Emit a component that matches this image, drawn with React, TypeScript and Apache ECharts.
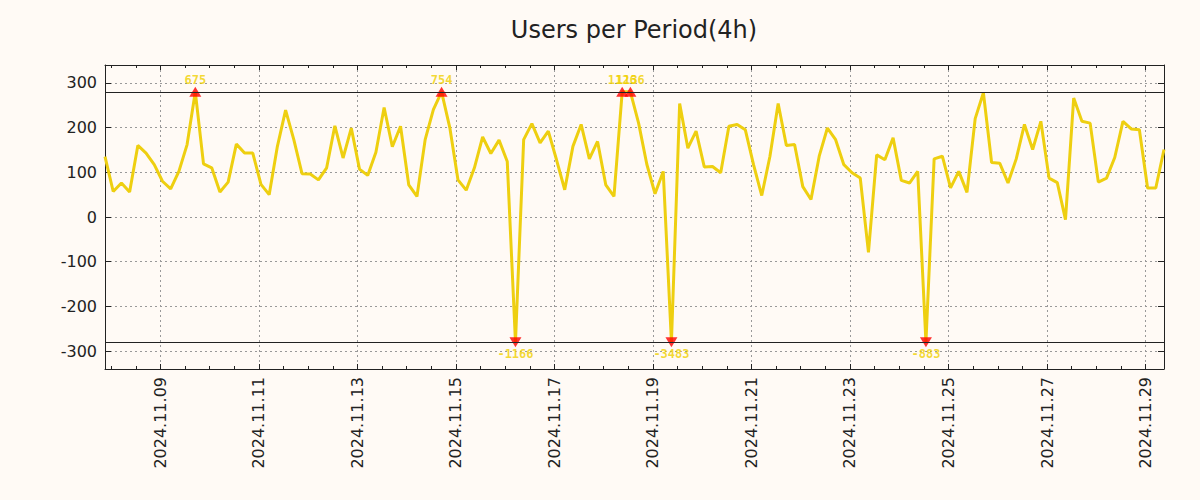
import React, { useEffect, useRef } from 'react';
import * as echarts from 'echarts';

const chartTitle = 'Users per Period(4h)';
// x positions are in days since 2024-11-01 00:00; first sample is 2024.11.07 21:00
const startDay = 6.875;
const periodDays = 4 / 24;
const tickStartDay = 8; // 2024.11.09
const tickStepDays = 2;
const tickLabels = [
  '2024.11.09', '2024.11.11', '2024.11.13', '2024.11.15', '2024.11.17', '2024.11.19',
  '2024.11.21', '2024.11.23', '2024.11.25', '2024.11.27', '2024.11.29',
];
const yTickValues = [-300, -200, -100, 0, 100, 200, 300];
const clipLimit = 280;

const users = [
  135, 57, 76, 56, 160, 143, 117, 80, 63, 102,
  162, 675, 119, 110, 56, 78, 163, 143, 143, 73,
  50, 158, 239, 173, 97, 96, 83, 110, 204, 132,
  199, 107, 93, 145, 245, 157, 203, 72, 46, 173,
  240, 754, 200, 83, 60, 110, 179, 142, 172, 124,
  -1166, 173, 209, 166, 192, 128, 61, 158, 207, 130,
  169, 72, 46, 1126, 1136, 210, 118, 52, 102, -3483,
  254, 154, 192, 112, 113, 99, 203, 207, 195, 117,
  48, 136, 254, 160, 162, 68, 39, 136, 199, 173,
  117, 99, 87, -79, 139, 128, 177, 82, 76, 102,
  -883, 130, 136, 65, 102, 55, 220, 278, 122, 120,
  76, 130, 207, 151, 214, 87, 77, -6, 266, 214,
  210, 78, 87, 133, 214, 197, 195, 65, 65, 151,
];

const lineColor = '#eecf10';
const labelColor = '#f0d000';
const textColor = '#222222';
const bgColor = '#fffaf5';
const font = 'DejaVu Sans';

export default function App() {
  const ref = useRef<HTMLDivElement>(null);
  useEffect(() => {
    document.body.style.margin = '0';
    document.body.style.background = bgColor;
    if (!ref.current) return;
    const chart = echarts.init(ref.current, null, { renderer: 'svg' });
    const xMin = startDay;
    const xMax = startDay + (users.length - 1) * periodDays;
    const lineData = users.map((v, i) => [
      startDay + i * periodDays,
      Math.max(-clipLimit, Math.min(clipLimit, v)),
    ]);
    const outliers = users
      .map((v, i) => ({ v, i }))
      .filter((o) => Math.abs(o.v) > clipLimit)
      .map((o) => ({
        value: [startDay + o.i * periodDays, o.v > 0 ? clipLimit : -clipLimit, o.v],
        symbolRotate: o.v > 0 ? 0 : 180,
        label: { position: o.v > 0 ? 'top' : 'bottom' },
      }));
    const xLabel = (v: number) => {
      const k = (v - tickStartDay) / tickStepDays;
      if (Math.abs(k - Math.round(k)) > 1e-6) return '';
      return tickLabels[Math.round(k)] ?? '';
    };
    const yLabel = (v: number) => {
      const r = Math.round(v);
      return Math.abs(v - r) < 1e-6 && yTickValues.includes(r) ? String(r) : '';
    };
    const axisLine = { show: true, onZero: false, lineStyle: { color: textColor, width: 1 } };
    const noLine = { show: false, onZero: false };
    const grid = { left: 105, right: 36, top: 65, bottom: 131, containLabel: false };
    const splitLine = { show: true, lineStyle: { color: '#999999', type: [2, 3], width: 1 } };
    const option: any = {
      animation: false,
      backgroundColor: bgColor,
      grid,
      graphic: [
        {
          type: 'text',
          x: 634,
          y: 30,
          style: {
            text: chartTitle,
            fill: textColor,
            font: `24px "${font}"`,
            textAlign: 'center',
            textVerticalAlign: 'middle',
          },
        },
      ],
      xAxis: [
        {
          type: 'value', position: 'bottom', min: xMin, max: xMax,
          minInterval: tickStepDays, maxInterval: tickStepDays,
          axisLine,
          axisTick: { show: true, inside: true, length: 5, lineStyle: { color: textColor } },
          axisLabel: {
            rotate: 90, margin: 8, fontSize: 16, fontFamily: font, color: textColor,
            formatter: xLabel, showMinLabel: true, showMaxLabel: true,
          },
          splitLine,
        },
        {
          type: 'value', position: 'bottom', min: xMin, max: xMax,
          minInterval: 0.5, maxInterval: 0.5,
          axisLine: noLine,
          axisTick: { show: true, inside: true, length: 3, lineStyle: { color: textColor } },
          axisLabel: { show: false },
          splitLine: { show: false },
        },
        {
          type: 'value', position: 'top', min: xMin, max: xMax,
          minInterval: tickStepDays, maxInterval: tickStepDays,
          axisLine,
          axisTick: { show: true, inside: true, length: 5, lineStyle: { color: textColor } },
          axisLabel: { show: false },
          splitLine: { show: false },
        },
        {
          type: 'value', position: 'top', min: xMin, max: xMax,
          minInterval: 0.5, maxInterval: 0.5,
          axisLine: noLine,
          axisTick: { show: true, inside: true, length: 3, lineStyle: { color: textColor } },
          axisLabel: { show: false },
          splitLine: { show: false },
        },
      ],
      yAxis: [
        {
          type: 'value', position: 'left', min: -340, max: 340,
          minInterval: 100, maxInterval: 100,
          axisLine,
          axisTick: { show: true, inside: true, length: 6, lineStyle: { color: textColor } },
          axisLabel: { margin: 8, fontSize: 16, fontFamily: font, color: textColor, formatter: yLabel },
          splitLine,
        },
        {
          type: 'value', position: 'right', min: -340, max: 340,
          minInterval: 100, maxInterval: 100,
          axisLine,
          axisTick: { show: true, inside: true, length: 6, lineStyle: { color: textColor } },
          axisLabel: { show: false },
          splitLine: { show: false },
        },
      ],
      series: [
        {
          type: 'line',
          xAxisIndex: 0,
          yAxisIndex: 0,
          data: lineData,
          symbol: 'none',
          showSymbol: false,
          silent: true,
          lineStyle: { color: lineColor, width: 3 },
          z: 2,
          markLine: {
            silent: true,
            symbol: ['none', 'none'],
            label: { show: false },
            lineStyle: { color: textColor, width: 1, type: 'solid' },
            data: [{ yAxis: clipLimit }, { yAxis: -clipLimit }],
          },
        },
        {
          type: 'scatter',
          xAxisIndex: 0,
          yAxisIndex: 0,
          data: outliers,
          symbol: 'triangle',
          symbolSize: [12, 10],
          silent: true,
          itemStyle: { color: '#ff0000' },
          label: {
            show: true,
            formatter: (p: any) => String(p.value[2]),
            color: labelColor,
            fontFamily: 'DejaVu Sans Mono',
            fontWeight: 'bold',
            fontSize: 12,
            distance: 1,
          },
          z: 3,
        },
      ],
    };
    chart.setOption(option);
    return () => chart.dispose();
  }, []);
  return <div ref={ref} style={{ width: 1200, height: 500 }} />;
}
